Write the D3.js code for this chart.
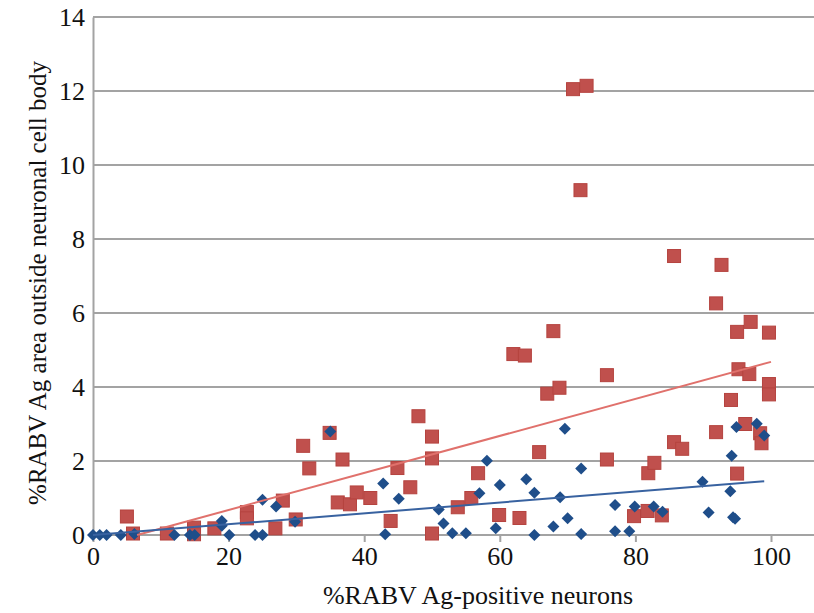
<!DOCTYPE html>
<html>
<head>
<meta charset="utf-8">
<script src="https://cdn.jsdelivr.net/npm/d3@7"></script>
<style>
  body { margin: 0; background: #fff; }
  svg text { font-family: 'Liberation Serif', 'DejaVu Serif', 'Noto Serif', serif; fill: #111; }
</style>
</head>
<body>
<div id="chart"></div>
<script>
/* global d3 */

// [x, y] pairs
const redPoints = [
  [5.0, 0.5], [5.9, 0.04], [10.9, 0.04], [14.9, 0.2], [14.9, 0.02], [17.9, 0.18],
  [22.7, 0.62], [22.7, 0.45], [26.9, 0.18], [28.0, 0.93], [29.9, 0.42], [31.0, 2.41],
  [31.9, 1.80], [34.9, 2.76], [36.8, 2.04], [36.1, 0.88], [37.9, 0.83], [38.9, 1.15],
  [40.9, 1.0], [43.9, 0.38], [44.9, 1.81], [46.8, 1.29], [48.0, 3.21], [50.0, 2.66],
  [50.0, 2.07], [50.0, 0.04], [53.8, 0.75], [55.8, 1.0], [56.8, 1.67], [59.9, 0.54],
  [62.0, 4.89], [63.7, 4.85], [62.9, 0.46], [65.8, 2.24], [67.0, 3.82], [67.9, 5.51],
  [68.8, 3.98], [70.8, 12.05], [72.8, 12.14], [71.9, 9.32], [75.8, 4.32], [75.8, 2.04],
  [79.8, 0.51], [81.8, 0.65], [83.9, 0.53], [81.9, 1.67], [82.8, 1.95], [85.7, 7.54],
  [85.7, 2.51], [86.9, 2.33], [91.9, 6.26], [91.9, 2.78], [92.7, 7.30], [94.1, 3.65],
  [95.0, 5.49], [95.2, 4.48], [95.0, 1.66], [96.2, 3.0], [96.8, 4.35], [97.0, 5.76],
  [98.4, 2.75], [98.6, 2.48], [99.7, 5.47], [99.7, 4.08], [99.7, 3.80]
];

const bluePoints = [
  [0, 0], [1, 0], [2, 0], [4.1, 0], [6.1, 0.03], [12, 0], [14.3, 0], [15, 0],
  [19, 0.38], [19, 0.25], [20.1, 0], [23.9, 0], [25, 0], [25, 0.95], [27, 0.77],
  [29.8, 0.36], [35, 2.8], [42.8, 1.39], [43.1, 0.02], [45.1, 0.98], [51, 0.69],
  [51.7, 0.31], [53, 0.05], [55, 0.05], [57, 1.13], [58.1, 2.01], [60, 1.35],
  [59.4, 0.18], [63.9, 1.51], [65.1, 1.14], [65.1, 0], [67.9, 0.23], [68.9, 1.02],
  [69.6, 2.87], [70, 0.45], [72, 1.8], [72, 0.03], [77, 0.81], [77, 0.1], [79.1, 0.1],
  [79.9, 0.77], [82.7, 0.77], [84, 0.63], [89.9, 1.44], [90.8, 0.61], [94, 1.18],
  [94.2, 2.14], [94.4, 0.48], [94.7, 0.44], [94.9, 2.92], [97.9, 3.01], [99, 2.69]
];

// linear trendlines (end points as seen)
const redTrend = [[6.5, 0], [100, 4.68]];
const blueTrend = [[0, 0], [99, 1.45]];

const xTicks = [0, 20, 40, 60, 80, 100];
const yTicks = [0, 2, 4, 6, 8, 10, 12, 14];

const xTitle = '%RABV Ag-positive neurons';
const yTitle = '%RABV Ag area outside neuronal cell body';

const width = 814;
const height = 613;
const gridColor = '#a3a3a3';
const serif = "'Liberation Serif', 'DejaVu Serif', 'Noto Serif', serif";

const svg = d3.select('#chart').append('svg')
  .attr('width', width)
  .attr('height', height);

const xScale = d3.scaleLinear()
  .domain([0, 100])
  .range([93, 771]);

const yScale = d3.scaleLinear()
  .domain([0, 14])
  .range([535, 17]);

// horizontal gridlines
svg.append('g')
  .selectAll('line')
  .data(yTicks)
  .join('line')
  .attr('x1', xScale(0))
  .attr('x2', width)
  .attr('y1', (d) => yScale(d))
  .attr('y2', (d) => yScale(d))
  .style('stroke', gridColor)
  .style('stroke-width', 2);

// y axis
const yAxis = d3.axisLeft(yScale)
  .tickValues(yTicks)
  .tickSize(0)
  .tickPadding(8);

const yG = svg.append('g')
  .attr('transform', `translate(${xScale(0)},0)`)
  .call(yAxis)
  .attr('font-family', serif);

yG.select('.domain')
  .style('stroke', gridColor)
  .style('stroke-width', 2);

yG.selectAll('.tick text')
  .style('font-size', '26px')
  .style('font-family', serif)
  .attr('fill', '#111');

// x axis
const xAxis = d3.axisBottom(xScale)
  .tickValues(xTicks)
  .tickSize(7)
  .tickSizeOuter(0)
  .tickPadding(5);

const xG = svg.append('g')
  .attr('transform', `translate(0,${yScale(0)})`)
  .call(xAxis)
  .attr('font-family', serif);

xG.select('.domain').remove();
xG.selectAll('.tick line')
  .style('stroke', gridColor)
  .style('stroke-width', 2);
xG.selectAll('.tick text')
  .style('font-size', '26px')
  .style('font-family', serif)
  .attr('fill', '#111');

// axis titles
svg.append('text')
  .attr('x', 478)
  .attr('y', 604)
  .style('text-anchor', 'middle')
  .style('font-size', '26px')
  .style('font-family', serif)
  .text(xTitle);

svg.append('text')
  .attr('transform', 'translate(46,283) rotate(-90)')
  .style('text-anchor', 'middle')
  .style('font-size', '25px')
  .style('font-family', serif)
  .text(yTitle);

// red squares
const sq = 13;
svg.append('g')
  .selectAll('rect')
  .data(redPoints)
  .join('rect')
  .attr('x', (d) => xScale(d[0]) - sq / 2)
  .attr('y', (d) => yScale(d[1]) - sq / 2)
  .attr('width', sq)
  .attr('height', sq)
  .style('fill', '#c0504d')
  .style('stroke', '#b5433f')
  .style('stroke-width', 1);

// blue diamonds
const diamond = d3.symbol().type(d3.symbolSquare).size(72);
svg.append('g')
  .selectAll('path')
  .data(bluePoints)
  .join('path')
  .attr('d', diamond)
  .attr('transform', (d) => `translate(${xScale(d[0])},${yScale(d[1])}) rotate(45)`)
  .style('fill', '#1f4e8a');

// trendlines
const line = d3.line()
  .x((d) => xScale(d[0]))
  .y((d) => yScale(d[1]));

svg.append('path')
  .datum(redTrend)
  .attr('d', line)
  .style('stroke', '#e0716c')
  .style('stroke-width', 2)
  .style('fill', 'none');

svg.append('path')
  .datum(blueTrend)
  .attr('d', line)
  .style('stroke', '#3862a0')
  .style('stroke-width', 2)
  .style('fill', 'none');
</script>
</body>
</html>
